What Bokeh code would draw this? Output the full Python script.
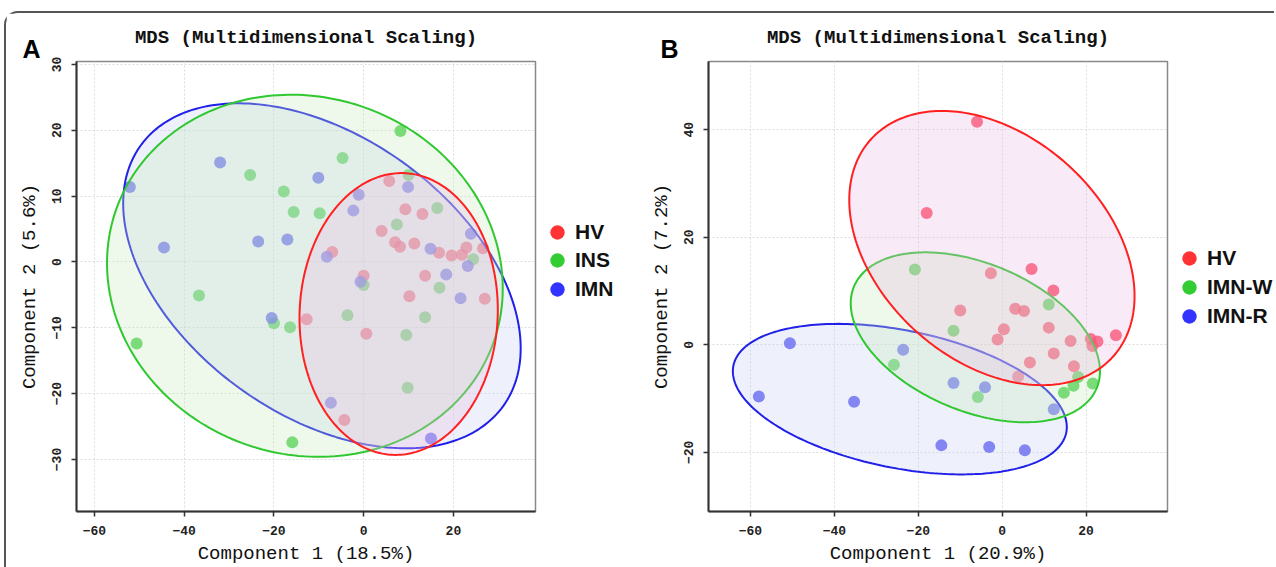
import numpy as np
from bokeh.plotting import figure
from bokeh.models import Legend, LegendItem, Title, FixedTicker
from bokeh.layouts import row
from bokeh.embed import file_html
from bokeh.resources import INLINE

# ---------------- Panel A data ----------------
a_hv_x = [-7.0, 5.7, 9.3, 13.1, 4.0, 7.0, 8.1, 11.3, 16.8, 19.6, 21.9, 22.9, 26.6, 0.0, 13.7, 10.2, 27.0, -12.7, 0.6, -4.3]
a_hv_y = [1.5, 12.3, 8.0, 7.3, 4.7, 3.0, 2.3, 2.8, 1.4, 1.0, 1.1, 2.2, 2.1, -2.1, -2.1, -5.2, -5.6, -8.7, -10.9, -24.0]
a_ins_x = [8.2, -4.7, -25.3, -17.8, -15.6, -9.8, 10.0, 16.4, 7.4, 24.4, 0.0, 16.9, 13.7, -3.6, 9.5, 9.8, -16.4, -20.0, -36.7, -50.6, -15.9]
a_ins_y = [19.9, 15.8, 13.2, 10.7, 7.6, 7.4, 13.2, 8.2, 5.7, 0.4, -3.5, -3.9, -8.4, -8.1, -11.1, -19.1, -9.9, -9.3, -5.1, -12.4, -27.4]
a_imn_x = [-52.1, -32.0, -10.1, -44.5, -23.5, -17.0, -8.2, -2.3, -1.1, 9.9, 14.9, 23.9, 23.2, -0.7, 18.4, 21.6, -20.5, -7.3, 15.0]
a_imn_y = [11.4, 15.1, 12.8, 2.2, 3.1, 3.4, 0.8, 7.8, 10.2, 11.4, 2.0, 4.3, -0.6, -3.0, -1.9, -5.5, -8.5, -21.4, -26.8]
# ellipse parameters: centre x, centre y, half width x, half height y, correlation
a_ell_cx = [-9.3, -13.1, 7.8]      # IMN, INS, HV
a_ell_cy = [-2.1, -2.1, -7.9]
a_ell_hx = [44.3, 44.1, 22.1]
a_ell_hy = [26.2, 27.5, 21.4]
a_ell_rho = [-0.42, -0.07, 0.03]

# ---------------- Panel B data ----------------
b_hv_x = [-6.0, -18.0, -2.7, -10.0, -1.1, 7.0, 12.2, 3.1, 5.2, 11.1, 0.4, 16.3, 21.1, 22.7, 21.5, 27.1, 12.3, 6.6, 17.1, 3.8]
b_hv_y = [41.5, 24.5, 13.3, 6.4, 1.0, 14.1, 10.1, 6.7, 6.3, 3.2, 2.9, 0.7, 1.1, 0.6, -0.2, 1.8, -1.6, -3.3, -4.0, -5.9]
b_imnw_x = [-20.8, -11.6, -25.8, -5.8, 11.1, 14.7, 17.0, 18.1, 21.6]
b_imnw_y = [14.0, 2.6, -3.7, -9.7, 7.5, -8.9, -7.6, -6.0, -7.2]
b_imnr_x = [-58.0, -50.6, -35.3, -23.6, -11.6, -4.1, 12.3, -14.5, -3.1, 5.4]
b_imnr_y = [-9.6, 0.3, -10.6, -0.9, -7.1, -7.9, -12.0, -18.7, -19.0, -19.6]
b_ell_cx = [-24.4, -6.4, -2.45]    # IMN-R, IMN-W, HV
b_ell_cy = [-10.1, 1.4, 18.0]
b_ell_hx = [39.8, 29.7, 34.0]
b_ell_hy = [14.0, 15.8, 25.5]
b_ell_rho = [-0.37, -0.40, -0.35]

x_ticks = [-60, -40, -20, 0, 20]
a_y_ticks = [-30, -20, -10, 0, 10, 20, 30]
b_y_ticks = [-20, 0, 20, 40]
a_groups = ["HV", "INS", "IMN"]
b_groups = ["HV", "IMN-W", "IMN-R"]

RED, GREEN, BLUE = "#ff3050", "#33cc33", "#4040f0"
RED_S, GREEN_S, BLUE_S = "#ff3333", "#33cc33", "#3333ff"
RED_L, GREEN_L, BLUE_L = "#ff2020", "#30c830", "#2020e8"
RED_F, GREEN_F, BLUE_F = "#e8b8e0", "#c6e8bc", "#c6d0f2"

MONO = "Liberation Mono"
SANS = "Liberation Sans"
H = 554


def ellipse_xy(cx, cy, hx, hy, rho, n=240):
    t = np.linspace(0, 2 * np.pi, n)
    phi = np.arccos(rho)
    return cx + hx * np.cos(t), cy + hy * np.cos(t + phi)


def make_fig(width, mbl, xr, yr, yt, xlabel, ylabel, letter, letter_off):
    p = figure(width=width, height=H, x_range=xr, y_range=yr,
               output_backend="svg", toolbar_location=None,
               min_border_left=mbl, min_border_right=2,
               min_border_top=48, min_border_bottom=56,
               title="MDS (Multidimensional Scaling)")
    p.title.align = "center"
    p.title.vertical_align = "bottom"
    p.title.text_font = MONO
    p.title.text_font_size = "19px"
    p.title.text_font_style = "bold"
    p.title.text_color = "#111111"
    p.title.standoff = -23
    p.add_layout(Title(text=letter, align="left", offset=letter_off, vertical_align="top",
                       standoff=-6, text_font=SANS, text_font_style="bold",
                       text_font_size="25px", text_color="#000000"), "above")
    p.outline_line_color = "#888888"
    p.outline_line_width = 1.5
    p.background_fill_color = "white"
    p.border_fill_color = "white"
    p.xaxis.ticker = FixedTicker(ticks=x_ticks)
    p.yaxis.ticker = FixedTicker(ticks=yt)
    p.xaxis.axis_label = xlabel
    p.yaxis.axis_label = ylabel
    for ax in (p.xaxis[0], p.yaxis[0]):
        ax.axis_line_color = "#333333"
        ax.axis_line_width = 2
        ax.major_tick_line_color = "#333333"
        ax.major_tick_line_width = 1.5
        ax.major_tick_out = 5
        ax.major_tick_in = 0
        ax.minor_tick_line_color = None
        ax.major_label_text_font = MONO
        ax.major_label_text_font_size = "13px"
        ax.major_label_text_font_style = "bold"
        ax.major_label_text_color = "#222222"
        ax.axis_label_text_font = MONO
        ax.axis_label_text_font_size = "19px"
        ax.axis_label_text_font_style = "normal"
        ax.axis_label_text_color = "#111111"
    p.xaxis.major_label_standoff = 9
    p.xaxis.axis_label_standoff = 5
    p.yaxis.major_label_orientation = "vertical"
    p.yaxis.major_label_standoff = 10
    p.yaxis.axis_label_standoff = 9
    for g in (p.xgrid[0], p.ygrid[0]):
        g.grid_line_color = "#dcdcdc"
        g.grid_line_dash = "2 2"
        g.grid_line_width = 1
    return p


def populate(p, groups, ells):
    for (xs, ys, col) in groups:
        p.scatter(xs, ys, size=12, fill_color=col, fill_alpha=0.8, line_color=None)
    for (cx, cy, hx, hy, rho, fc, lc) in ells:
        ex, ey = ellipse_xy(cx, cy, hx, hy, rho)
        p.patch(ex, ey, fill_color=fc, fill_alpha=0.3, line_color=lc, line_width=2)


def legend_fig(width, labels, data, cols, vx, vys):
    # legend-only figure; its ranges lie far from the data so only the key is shown
    lf = figure(width=width, height=H, x_range=(1000, 1001), y_range=(1000, 1001),
                output_backend="svg", toolbar_location=None, min_border=0,
                x_axis_type=None, y_axis_type=None)
    lf.outline_line_color = None
    lf.background_fill_color = "white"
    lf.border_fill_color = "white"
    for lab, (xs, ys), col, vy in zip(labels, data, cols, vys):
        r = lf.scatter(xs, ys, size=16, fill_color=col, fill_alpha=1.0, line_color=None)
        lg = Legend(items=[LegendItem(label=lab, renderers=[r])],
                    location=(vx, vy), glyph_width=36, glyph_height=40, label_height=40,
                    spacing=0, label_standoff=0, padding=0, margin=0,
                    border_line_color=None, background_fill_alpha=0,
                    label_text_font=SANS, label_text_font_style="bold",
                    label_text_font_size="21px", label_text_color="#111111",
                    label_text_baseline="middle")
        lf.add_layout(lg)
    return lf


# Panel A
pa = make_fig(531, 70, (-64, 38.3), (-37.9, 30.45), a_y_ticks,
              "Component 1 (18.5%)", "Component 2 (5.6%)", "A", -54)
populate(pa,
         [(a_hv_x, a_hv_y, RED), (a_ins_x, a_ins_y, GREEN), (a_imn_x, a_imn_y, BLUE)],
         [(a_ell_cx[0], a_ell_cy[0], a_ell_hx[0], a_ell_hy[0], a_ell_rho[0], BLUE_F, BLUE_L),
          (a_ell_cx[1], a_ell_cy[1], a_ell_hx[1], a_ell_hy[1], a_ell_rho[1], GREEN_F, GREEN_L),
          (a_ell_cx[2], a_ell_cy[2], a_ell_hx[2], a_ell_hy[2], a_ell_rho[2], RED_F, RED_L)])
la = legend_fig(103, a_groups, [(a_hv_x, a_hv_y), (a_ins_x, a_ins_y), (a_imn_x, a_imn_y)],
                [RED_S, GREEN_S, BLUE_S], 2, [259, 231, 202])

# Panel B
pb = make_fig(529, 68, (-70, 39.4), (-31.0, 52.7), b_y_ticks,
              "Component 1 (20.9%)", "Component 2 (7.2%)", "B", -48)
populate(pb,
         [(b_hv_x, b_hv_y, RED), (b_imnw_x, b_imnw_y, GREEN), (b_imnr_x, b_imnr_y, BLUE)],
         [(b_ell_cx[0], b_ell_cy[0], b_ell_hx[0], b_ell_hy[0], b_ell_rho[0], BLUE_F, BLUE_L),
          (b_ell_cx[1], b_ell_cy[1], b_ell_hx[1], b_ell_hy[1], b_ell_rho[1], GREEN_F, GREEN_L),
          (b_ell_cx[2], b_ell_cy[2], b_ell_hx[2], b_ell_hy[2], b_ell_rho[2], RED_F, RED_L)])
lb = legend_fig(105, b_groups, [(b_hv_x, b_hv_y), (b_imnw_x, b_imnw_y), (b_imnr_x, b_imnr_y)],
                [RED_S, GREEN_S, BLUE_S], 2, [233, 204, 175])

layout = row(pa, la, pb, lb, styles={"margin-top": "11px", "margin-left": "4px",
                                     "border-top": "2px solid #555555", "border-left": "2px solid #555555",
                                     "border-top-left-radius": "14px"})

open("out.html", "w").write(file_html(layout, INLINE))
